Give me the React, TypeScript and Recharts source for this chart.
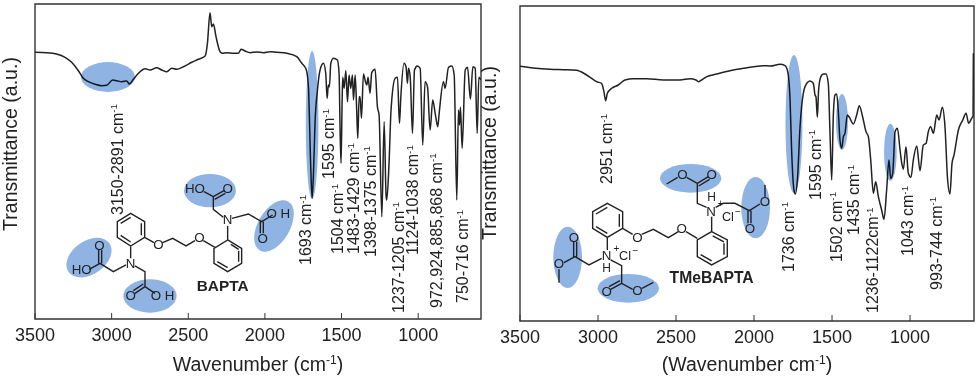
import React from 'react';
import { LineChart, Line, XAxis, YAxis, ReferenceArea, ReferenceDot } from 'recharts';

const FONT = '"Liberation Sans", Arial, sans-serif';
const INK = '#222';
const BLUE = '#8fb3e3';

const xTicks = [3500, 3000, 2500, 2000, 1500, 1000];
const xDomain: [number, number] = [590, 3500];
const yDomain: [number, number] = [0, 315];

// BAPTA spectrum
const bWave = [
  3500, 3424, 3359, 3304, 3261, 3217, 3185, 3152, 3108, 3065, 3032, 2993, 2967, 2934, 2902, 2884, 2858, 2825, 2782,
  2749, 2706, 2673, 2640, 2608, 2575, 2532, 2477, 2434, 2390, 2375, 2358, 2347, 2336, 2319, 2292, 2275, 2249, 2205,
  2173, 2155, 2129, 2097, 2053, 2010, 1966, 1923, 1857, 1792, 1759, 1731, 1716, 1701, 1692, 1683, 1673, 1657, 1640,
  1618, 1603, 1594, 1586, 1579, 1570, 1553, 1527, 1516, 1509, 1503, 1496, 1492, 1483, 1472, 1461, 1451, 1440, 1429,
  1422, 1411, 1401, 1394, 1385, 1379, 1370, 1357, 1344, 1335, 1327, 1314, 1303, 1281, 1266, 1255, 1237, 1222, 1209,
  1205, 1190, 1177, 1150, 1135, 1122, 1113, 1092, 1079, 1070, 1063, 1052, 1037, 1024, 1005, 987, 970, 955, 939, 922,
  905, 889, 878, 872, 863, 835, 824, 802, 780, 765, 748, 737, 730, 724, 713, 693, 678, 659, 643, 628, 615, 604, 591,
];
const bTrans = [
  266.7, 266.3, 265, 261.7, 256.7, 248.3, 240.7, 237.3, 234.7, 233.3, 233.7, 239, 238.3, 237.3, 238, 235, 239.7, 245.7,
  250.3, 249, 251.3, 249, 247.3, 250.7, 249.7, 252.3, 256.7, 259.7, 263, 275.7, 306.3, 292.3, 295, 282.3, 267.3, 265.7,
  266.3, 265.7, 265.7, 269.7, 268, 266.3, 267, 266.3, 267.3, 266.7, 265.7, 262.3, 255.7, 249.7, 232.3, 152.3, 120.7,
  145.7, 195.7, 229, 249, 255.7, 245.7, 220.7, 234, 232.3, 255.7, 260.7, 259, 245.7, 185.7, 155.7, 219, 241.7, 230.7,
  248.3, 217.3, 244, 230.7, 244, 219, 244, 209, 180.7, 222.3, 222.3, 200.7, 245, 237.3, 234, 241.7, 225.7, 246.3, 249.7,
  212.3, 204, 102.3, 197.3, 122.3, 119, 155.7, 209, 240.7, 241.7, 195.7, 222.3, 255.7, 252.3, 235.7, 250.7, 242.3, 185.7,
  249, 253, 250.7, 174, 237.3, 232.3, 189, 219, 205.7, 195.7, 192.3, 205.7, 237.3, 230.7, 251.7, 253, 244, 119, 209, 194,
  211.7, 170.7, 249, 251.7, 220, 252.3, 250.7, 185.7, 241.7, 239,
];

// TMeBAPTA spectrum
const tWave = [
  3500, 3415, 3308, 3222, 3137, 3083, 3041, 3009, 2977, 2962, 2951, 2940, 2912, 2870, 2827, 2773, 2688, 2581, 2474, 2410,
  2372, 2357, 2336, 2303, 2239, 2154, 2068, 2004, 1940, 1897, 1833, 1801, 1784, 1769, 1759, 1744, 1735, 1722, 1705, 1684,
  1662, 1641, 1620, 1609, 1603, 1594, 1586, 1573, 1556, 1539, 1524, 1513, 1502, 1492, 1481, 1470, 1459, 1449, 1438, 1427,
  1417, 1402, 1389, 1363, 1342, 1325, 1304, 1282, 1267, 1252, 1235, 1220, 1203, 1182, 1167, 1150, 1135, 1124, 1111, 1096,
  1081, 1064, 1053, 1043, 1026, 1011, 994, 979, 957, 936, 915, 897, 883, 868, 850, 829, 814, 793, 776, 759, 744, 731, 718,
  690, 662, 641, 624, 605, 596, 594,
];
const tTrans = [
  254.7, 253, 251.7, 251.3, 250.7, 247, 242.7, 239.3, 237.7, 229.3, 220.3, 227.7, 232.7, 236, 241, 242.3, 242.3, 241, 241,
  242.3, 241, 239.3, 241, 244.3, 247, 250.3, 252.7, 254.3, 255.3, 255, 256.7, 255.3, 249.3, 221, 171, 131, 127, 141, 194.3,
  227.7, 237.7, 240, 237.7, 226, 224.3, 203.7, 231, 243.7, 247, 247, 237.7, 187.7, 141, 204.3, 226, 227, 207.7, 181, 172.7,
  184.3, 187.7, 206, 203.7, 197, 206, 215.3, 204.3, 189.3, 184.3, 161, 127.7, 139.3, 124.3, 111, 101.7, 131, 161, 142.7,
  147.7, 189.3, 192.7, 171, 157.7, 151.7, 174.3, 147.7, 143.7, 161, 175, 150.3, 176, 177.7, 189.3, 194.3, 187.7, 206, 201,
  213.7, 194.3, 141, 127, 157.7, 166, 191, 201, 207.7, 197.7, 202.7, 205, 267.7,
];

// peak annotations: text, then wavenumber/value of the text's starting corner
const bLabels = [
  '3150-2891 cm', '1693 cm', '1595 cm', '1504 cm', '1483-1429 cm', '1398-1375 cm', '1237-1205 cm', '1124-1038 cm',
  '972,924,885,868 cm', '750-716 cm',
];
const bLabelWave = [2928, 1699, 1548, 1488, 1385, 1276, 1092, 998, 846, 674];
const bLabelVal = [104, 54, 140, 65, 65, 62, 6, 64, 11, 16];

const tLabels = ['2951 cm', '1736 cm', '1595 cm', '1502 cm', '1435 cm', '1236-1122cm', '1043 cm', '993-744 cm'];
const tLabelWave = [2910, 1744, 1571, 1438, 1327, 1205, 981, 797];
const tLabelVal = [137, 49, 121, 59, 86, 8, 65, 31];

// shaded bands over the spectra: wavenumber, value
const bBandWave = [3024, 1692];
const bBandVal = [242, 194];
const bBandRx = [27, 6.3];
const bBandRy = [15, 74];

const tBandWave = [1744, 1436, 1126];
const tBandVal = [197, 199, 168.7];
const tBandRx = [8.5, 6, 6.3];
const tBandRy = [69, 28, 28.5];

const toRows = (wave: number[], trans: number[]) => wave.map((w, i) => ({ wave: w, trans: trans[i] }));

const Sup = () => (
  <tspan fontSize="0.62em" dy="-0.55em">
    -1
  </tspan>
);

interface SpectrumProps {
  left: number;
  width: number;
  margin: { top: number; left: number; right: number; bottom: number };
  axisHeight: number;
  wave: number[];
  trans: number[];
  labels: string[];
  labelWave: number[];
  labelVal: number[];
  bandWave: number[];
  bandVal: number[];
  bandRx: number[];
  bandRy: number[];
}

const Spectrum: React.FC<SpectrumProps> = (p) => (
  <div style={{ position: 'absolute', left: p.left, top: 0 }}>
    <LineChart width={p.width} height={378} data={toRows(p.wave, p.trans)} margin={p.margin}>
      <XAxis
        dataKey="wave"
        type="number"
        reversed
        domain={xDomain}
        ticks={xTicks}
        interval={0}
        allowDataOverflow
        axisLine={false}
        tickSize={-6}
        tickMargin={15}
        height={p.axisHeight}
        stroke="#333"
        tick={{ fontSize: 18, fontFamily: FONT, fill: INK }}
      />
      <YAxis hide type="number" domain={yDomain} allowDataOverflow />
      {p.bandWave.map((w, i) => (
        <ReferenceDot
          key={w}
          x={w}
          y={p.bandVal[i]}
          shape={(s: any) => (
            // multiply keeps the trace dark where a band lies over it
            <ellipse
              cx={s.cx}
              cy={s.cy}
              rx={p.bandRx[i]}
              ry={p.bandRy[i]}
              fill={BLUE}
              style={{ mixBlendMode: 'multiply' }}
            />
          )}
        />
      ))}
      <Line
        type="monotoneX"
        dataKey="trans"
        stroke={INK}
        strokeWidth={1.5}
        dot={false}
        activeDot={false}
        isAnimationActive={false}
      />
      <ReferenceArea
        x1={xDomain[1]}
        x2={xDomain[0]}
        y1={yDomain[0]}
        y2={yDomain[1]}
        fill="none"
        stroke="#333"
        strokeWidth={1.4}
      />
      {p.labels.map((text, i) => (
        <ReferenceDot
          key={text}
          x={p.labelWave[i]}
          y={p.labelVal[i]}
          shape={(s: any) => (
            <text
              x={s.cx}
              y={s.cy}
              transform={`rotate(-90 ${s.cx} ${s.cy})`}
              fontFamily={FONT}
              fontSize={16}
              fill={INK}
            >
              {text}
              <Sup />
            </text>
          )}
        />
      ))}
    </LineChart>
  </div>
);

const bondStyle = { fill: 'none', stroke: INK, strokeWidth: 4.2 };

const Atom = ({ x, y, s, size = 40 }: { x: number; y: number; s: string; size?: number }) => (
  <text x={x} y={y} textAnchor="middle" dominantBaseline="central" fontFamily={FONT} fontSize={size} fill={INK}>
    {s}
  </text>
);

// both molecules are drawn at 3x and scaled down
const BaptaMolecule = () => (
  <g transform="scale(0.3333)">
    <ellipse cx={267} cy={773} rx={75} ry={50} fill={BLUE} transform="rotate(-35 267 773)" />
    <ellipse cx={450} cy={888} rx={80} ry={50} fill={BLUE} />
    <ellipse cx={630} cy={572} rx={78} ry={50} fill={BLUE} />
    <ellipse cx={822} cy={678} rx={85} ry={48} fill={BLUE} transform="rotate(-60 822 678)" />
    <path
      {...bondStyle}
      d="M392 640L434 665L434 712L392 738L352 712L352 665Z M392 652L362 670 M424 670L424 706 M362 706L392 726
         M434 712L462 728 M488 728L518 715L558 738L585 722 M610 722L645 742
         M683 720L725 745L725 790L683 815L642 790L642 745Z M693 733L716 748 M716 752L716 785 M683 803L652 785
         M683 720L683 678 M670 652L640 628L640 590L612 575 M640 590L672 572 M644 598L676 580
         M696 655L745 642L785 665L818 645 M781 665L781 700 M790 665L790 700
         M392 738L392 775 M378 795L340 815L300 790L268 808 M296 790L296 750 M305 790L305 750
         M405 798L435 815L435 860L465 880 M435 860L405 880 M430 852L400 872"
    />
    <Atom x={475} y={735} s="O" />
    <Atom x={598} y={712} s="O" />
    <Atom x={683} y={660} s="N" />
    <Atom x={585} y={565} s="HO" />
    <Atom x={683} y={565} s="O" />
    <Atom x={835} y={640} s="O H" />
    <Atom x={788} y={715} s="O" />
    <Atom x={392} y={790} s="N" />
    <Atom x={298} y={737} s="O" />
    <Atom x={245} y={810} s="HO" />
    <Atom x={392} y={887} s="O" />
    <Atom x={488} y={887} s="O H" />
    <text x={668} y={858} textAnchor="middle" dominantBaseline="central" fontFamily={FONT} fontWeight="bold" fontSize={46} fill={INK}>
      BAPTA
    </text>
  </g>
);

const TmeMolecule = () => (
  <g transform="translate(490 0) scale(0.3333)">
    <ellipse cx={233} cy={772} rx={43} ry={92} fill={BLUE} />
    <ellipse cx={415} cy={865} rx={92} ry={43} fill={BLUE} />
    <ellipse cx={602} cy={535} rx={92} ry={43} fill={BLUE} />
    <ellipse cx={797} cy={623} rx={43} ry={92} fill={BLUE} />
    <path
      {...bondStyle}
      d="M352 610L398 635L398 685L352 712L308 685L308 635Z M352 622L318 642 M388 642L388 680 M318 680L352 700
         M398 685L428 703 M455 703L490 688L535 713L565 695 M588 695L622 715
         M665 695L712 720L712 770L665 795L622 770L622 720Z M668 708L702 726 M702 730L702 764 M665 783L632 764
         M665 695L665 650 M650 622L622 610L622 550L590 532 M563 532L530 552 M622 550L655 530 M626 558L659 538
         M677 622L700 610L735 610L778 632L810 612 M825 590L825 555 M774 632L774 670 M783 632L783 670
         M352 712L352 750 M335 775L297 795L255 770L222 788 M207 808L207 848 M251 770L251 725 M260 770L260 725
         M362 780L395 797L395 850L428 868 M456 865L490 847 M395 850L362 868 M390 842L357 860"
    />
    <Atom x={442} y={712} s="O" />
    <Atom x={575} y={685} s="O" />
    <Atom x={663} y={634} s="N" />
    <Atom x={665} y={590} s="H" size={36} />
    <Atom x={692} y={612} s="+" size={30} />
    <Atom x={714} y={652} s="Cl" size={38} />
    <Atom x={744} y={636} s="−" size={30} />
    <Atom x={665} y={525} s="O" />
    <Atom x={577} y={525} s="O" />
    <Atom x={780} y={686} s="O" />
    <Atom x={825} y={606} s="O" />
    <Atom x={350} y={766} s="N" />
    <Atom x={350} y={803} s="H" size={36} />
    <Atom x={379} y={746} s="+" size={30} />
    <Atom x={405} y={769} s="Cl" size={38} />
    <Atom x={436} y={752} s="−" size={30} />
    <Atom x={252} y={712} s="O" />
    <Atom x={207} y={792} s="O" />
    <Atom x={350} y={875} s="O" />
    <Atom x={442} y={872} s="O" />
    <text x={665} y={833} textAnchor="middle" dominantBaseline="central" fontFamily={FONT} fontWeight="bold" fontSize={47} fill={INK}>
      TMeBAPTA
    </text>
  </g>
);

const AxisText = ({ x, y, rotate, children }: { x: number; y: number; rotate?: boolean; children: React.ReactNode }) => (
  <text
    x={x}
    y={y}
    textAnchor="middle"
    fontFamily={FONT}
    fontSize={19.5}
    fill={INK}
    transform={rotate ? `rotate(-90 ${x} ${y})` : undefined}
  >
    {children}
  </text>
);

export default function App() {
  return (
    <div style={{ position: 'absolute', left: 0, top: 0, width: 978, height: 378, overflow: 'hidden', background: '#fff' }}>
      <Spectrum
        left={0}
        width={490}
        margin={{ top: 4, left: 35, right: 9, bottom: 0 }}
        axisHeight={59}
        wave={bWave}
        trans={bTrans}
        labels={bLabels}
        labelWave={bLabelWave}
        labelVal={bLabelVal}
        bandWave={bBandWave}
        bandVal={bBandVal}
        bandRx={bBandRx}
        bandRy={bBandRy}
      />
      <Spectrum
        left={490}
        width={488}
        margin={{ top: 6, left: 30, right: 4, bottom: 0 }}
        axisHeight={57}
        wave={tWave}
        trans={tTrans}
        labels={tLabels}
        labelWave={tLabelWave}
        labelVal={tLabelVal}
        bandWave={tBandWave}
        bandVal={tBandVal}
        bandRx={tBandRx}
        bandRy={tBandRy}
      />
      <svg width={978} height={378} style={{ position: 'absolute', left: 0, top: 0, pointerEvents: 'none' }}>
        <BaptaMolecule />
        <TmeMolecule />
        <AxisText x={17} y={144} rotate>
          Transmittance (a.u.)
        </AxisText>
        <AxisText x={496} y={153} rotate>
          Transmittance (a.u.)
        </AxisText>
        <AxisText x={258} y={371}>
          Wavenumber (cm
          <Sup />
          <tspan dy="0.34em">)</tspan>
        </AxisText>
        <AxisText x={747} y={371}>
          (Wavenumber cm
          <Sup />
          <tspan dy="0.34em">)</tspan>
        </AxisText>
      </svg>
    </div>
  );
}
